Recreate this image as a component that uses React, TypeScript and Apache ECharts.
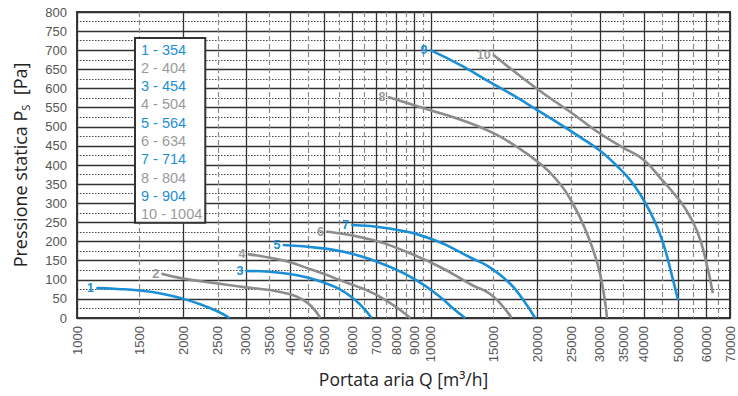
import React, { useEffect, useRef } from "react";
import * as echarts from "echarts";

const BLUE = "#1b8fd6";
const GRAY = "#8c8c8c";
const LEGEND_GRAY = "#9a9a9a";

// Fan models (legend) and curve numbers
const curveNumbers = ["1", "2", "3", "4", "5", "6", "7", "8", "9", "10"];
const curveNames = ["1 - 354", "2 - 404", "3 - 454", "4 - 504", "5 - 564", "6 - 634", "7 - 714", "8 - 804", "9 - 904", "10 - 1004"];

// [Q m3/h, Ps Pa]
const curve1 = [[1135, 78], [1300, 76], [1500, 72], [1750, 63], [2000, 50], [2300, 31], [2500, 17], [2700, 0]];
const curve2 = [[1735, 116], [2000, 103], [2500, 90], [3000, 80], [3500, 73], [4000, 62], [4300, 50], [4600, 30], [4870, 0]];
const curve3 = [[3000, 123], [3500, 121], [4000, 115], [4500, 105], [5000, 92], [5500, 76], [6000, 53], [6400, 29], [6800, 0]];
const curve4 = [[3040, 167], [3575, 156], [4000, 146], [4450, 131], [5000, 115], [5520, 99], [6200, 82], [6860, 65], [7400, 48], [7820, 34], [8300, 17], [8750, 0]];
const curve5 = [[3820, 191], [4950, 182], [6160, 165], [7640, 134], [9090, 99], [10580, 56], [11560, 25], [12500, 0]];
const curve6 = [[5070, 226], [6860, 204], [8530, 173], [10580, 134], [13140, 85], [14630, 64], [15980, 30], [16900, 0]];
const curve7 = [[5960, 243], [7640, 234], [10130, 205], [13140, 155], [14630, 133], [16700, 91], [18240, 47], [19700, 0]];
const curve8 = [[7566, 578], [9750, 546], [12080, 519], [14980, 484], [17500, 447], [19940, 410], [22420, 366], [25210, 298], [27790, 214], [29670, 136], [30840, 60], [31450, 0]];
const curve9 = [[9942, 701], [12240, 659], [14980, 612], [17400, 578], [19940, 544], [23160, 507], [26380, 473], [30060, 437], [33340, 400], [36520, 361], [39750, 311], [42980, 251], [45580, 188], [47700, 120], [49930, 47]];
const curve10 = [[15000, 688], [19890, 600], [25000, 536], [29960, 483], [35000, 445], [39930, 413], [44970, 361], [48320, 328], [52000, 290], [56330, 230], [59480, 160], [62600, 65]];

const curves = [curve1, curve2, curve3, curve4, curve5, curve6, curve7, curve8, curve9, curve10];

// Axis ticks
const xLabelValues = [1000, 1500, 2000, 2500, 3000, 3500, 4000, 4500, 5000, 6000, 7000, 8000, 9000, 10000, 15000, 20000, 25000, 30000, 35000, 40000, 50000, 60000, 70000];
const xSolidValues = [1000, 2000, 3000, 4000, 5000, 6000, 7000, 8000, 9000, 10000, 20000, 30000, 40000, 50000, 60000, 70000];
const xDashedValues = [1500, 2500, 3500, 4500, 5500, 6500, 7500, 8500, 9500, 15000, 25000, 35000, 45000, 55000, 65000];
const X_MIN = 1000;
const X_MAX = 70000;
const Y_MIN = 0;
const Y_MAX = 800;
const Y_STEP = 50;

const FONT = "Liberation Sans, Arial, sans-serif";
const TITLE_FONT = "Open Sans, sans-serif";

export default function App() {
  const ref = useRef<HTMLDivElement>(null);
  useEffect(() => {
    if (!ref.current) return;
    const chart = echarts.init(ref.current, undefined, { renderer: "svg" });
    const colorOf = (i: number) => (i % 2 === 0 ? BLUE : GRAY);

    const series = curves.map((c, i) => ({
      type: "line",
      name: curveNames[i],
      xAxisIndex: 0,
      yAxisIndex: 0,
      smooth: 0.5,
      symbol: "none",
      z: 5,
      lineStyle: { color: colorOf(i), width: 2.6 },
      itemStyle: { color: colorOf(i) },
      data: c.map((p, j) =>
        j === 0
          ? {
              value: p,
              symbol: "circle",
              symbolSize: 1,
              label: {
                show: true,
                position: "left",
                distance: 2,
                formatter: curveNumbers[i],
                color: i % 2 === 0 ? BLUE : LEGEND_GRAY,
                fontWeight: "bold",
                fontSize: 12.5,
                fontFamily: FONT,
              },
            }
          : { value: p }
      ),
    }));

    chart.setOption({
      animation: false,
      backgroundColor: "#ffffff",
      textStyle: { fontFamily: FONT },
      grid: {
        left: 77,
        right: 8,
        top: 12,
        bottom: 78,
        show: true,
        borderColor: "#3a3a3a",
        borderWidth: 2,
        backgroundColor: "#ffffff",
        outerBoundsMode: "none",
      },
      legend: {
        show: true,
        orient: "vertical",
        left: 135,
        top: 38,
        selectedMode: false,
        icon: "none",
        itemWidth: 0,
        itemHeight: 14.5,
        itemGap: 3.3,
        padding: [4, 3, 1, 1],
        backgroundColor: "#ffffff",
        borderColor: "#333333",
        borderWidth: 2,
        z: 10,
        textStyle: { fontSize: 14.5, lineHeight: 14.5, fontFamily: FONT },
        data: curveNames.map((n, i) => ({
          name: n,
          icon: "none",
          textStyle: { color: i % 2 === 0 ? BLUE : LEGEND_GRAY },
        })),
      },
      xAxis: [
        {
          type: "log",
          logBase: 10,
          min: X_MIN,
          max: X_MAX,
          position: "bottom",
          name: "Portata aria Q [m³/h]",
          nameLocation: "middle",
          nameGap: 50,
          nameTextStyle: { fontFamily: TITLE_FONT, fontSize: 17.5, color: "#222" },
          axisLine: { show: false },
          axisTick: { show: false, customValues: xSolidValues },
          axisLabel: {
            show: true,
            customValues: xLabelValues,
            rotate: 90,
            margin: 8,
            fontSize: 13,
            color: "#555",
            fontFamily: FONT,
            formatter: (v: number) => String(Math.round(v)),
          },
          splitLine: { show: true, lineStyle: { color: "#333", width: 1.3, type: "solid" } },
        },
        {
          type: "log",
          logBase: 10,
          min: X_MIN,
          max: X_MAX,
          position: "bottom",
          axisLine: { show: false },
          axisTick: { show: false, customValues: xDashedValues },
          axisLabel: { show: false },
          splitLine: { show: true, lineStyle: { color: "#8a8a8a", width: 1.2, type: [5, 3] } },
        },
      ],
      yAxis: {
        type: "value",
        min: Y_MIN,
        max: Y_MAX,
        interval: Y_STEP,
        name: "Pressione statica P{s|S}  [Pa]",
        nameLocation: "middle",
        nameRotate: 90,
        nameGap: 46,
        nameTextStyle: {
          fontFamily: TITLE_FONT,
          fontSize: 18,
          color: "#222",
          lineHeight: 22,
          rich: {
            s: { fontFamily: TITLE_FONT, fontSize: 11, color: "#222", lineHeight: 11, verticalAlign: "bottom" },
          },
        },
        axisLine: { show: false },
        axisTick: { show: false },
        axisLabel: { fontSize: 13, color: "#555", margin: 10, fontFamily: FONT },
        splitLine: { show: true, lineStyle: { color: "#333", width: 1.3 } },
        minorTick: { show: false, splitNumber: 2 },
        minorSplitLine: { show: true, lineStyle: { color: "#444", width: 1, type: [1.5, 1.5] } },
      },
      series,
    });
    return () => chart.dispose();
  }, []);
  return <div ref={ref} style={{ position: "fixed", left: 0, top: 0, width: 738, height: 396 }} />;
}
